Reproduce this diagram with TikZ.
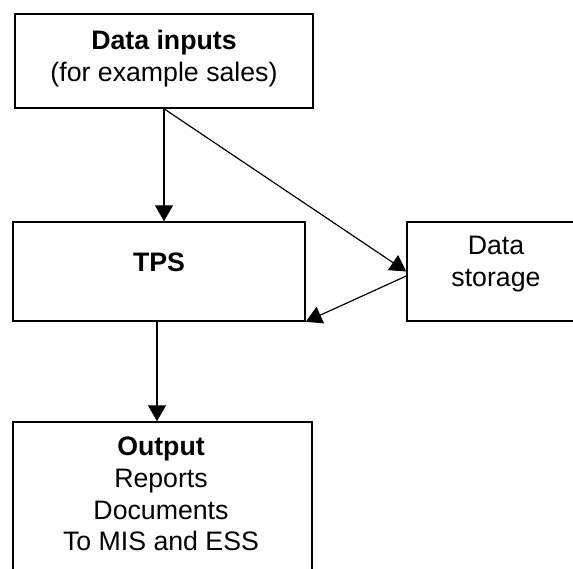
\documentclass[tikz,border=0pt]{standalone}
\usepackage{fontspec}
\setmainfont{Liberation Sans}
\usetikzlibrary{arrows.meta,positioning}

\begin{document}
\begin{tikzpicture}[x=1pt, y=-1pt,
  box/.style={draw, line width=1.5pt, inner sep=0pt},
  txt/.style={font=\fontsize{26.7}{31.7}\selectfont, align=center, inner sep=0pt},
  flow/.style={line width=1.2pt, -{Triangle[length=16pt,width=18pt]}}]

  % Page frame, cropped like the reference
  \useasboundingbox (0,0) rectangle (573,568);
  \clip (0,0) rectangle (573,568);

  % Boxes
  \node[box, minimum width=298pt, minimum height=94pt]
    (inputs) at (164,61) {};
  \node[box, minimum width=292pt, minimum height=99pt]
    (tps) at (159,271.5) {};
  \node[box, minimum width=178pt, minimum height=99pt]
    (store) at (496,271.5) {};
  \node[box, minimum width=299pt, minimum height=148pt]
    (output) at (162.5,496) {};

  % Texts inside the boxes
  \node[txt] (inputs-txt) at (164,58.3)
    {\textbf{Data inputs}\\(for example sales)};
  \node[txt] (tps-txt) at (159,262) {\textbf{TPS}};
  \node[txt] (store-txt) at (496,264.3) {Data\\storage};
  \node[txt] (output-txt) at (161,494)
    {\textbf{Output}\\Reports\\Documents\\To MIS and ESS};

  % Flows
  \draw[flow] (inputs.south) -- (inputs.south |- tps.north);
  \draw[flow] (inputs.south) -- (store.west);
  \draw[flow] ([yshift=-4.5pt]store.west) -- (tps.south east);
  \draw[flow] ([xshift=-2pt]tps.south) -- ([xshift=-2pt]tps.south |- output.north);
\end{tikzpicture}
\end{document}
